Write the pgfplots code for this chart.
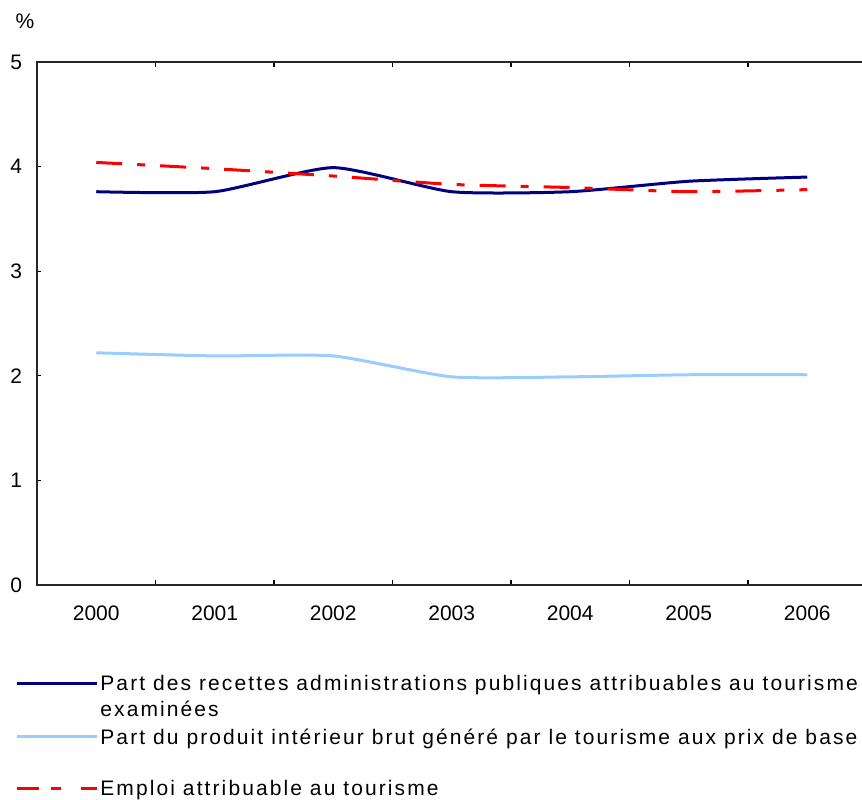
\documentclass[border=0pt]{standalone}
\usepackage{pgfplots}
\pgfplotsset{compat=1.18}
\usepackage{fontspec}
\setmainfont{Liberation Sans}
\newfontfamily\legfont[LetterSpace=10]{Liberation Sans}
\definecolor{navyline}{RGB}{0,0,128}
\definecolor{lblue}{RGB}{153,204,255}
\definecolor{redline}{RGB}{255,0,0}
\begin{document}
\begin{tikzpicture}
\useasboundingbox (0,0) rectangle (431pt,399.5pt);
\begin{axis}[
  at={(18.5pt,107pt)}, anchor=south west, scale only axis,
  width=414.75pt, height=261.5pt,
  xmin=-0.5, xmax=6.5, ymin=0, ymax=5,
  xtick={0,1,2,3,4,5,6},
  xticklabels={2000,2001,2002,2003,2004,2005,2006},
  minor xtick={0.5,1.5,2.5,3.5,4.5,5.5},
  ytick={0,1,2,3,4,5},
  tick align=inside,
  major x tick style={draw=none},
  minor tick length=2.5pt, major tick length=2pt,
  tick style={black, line width=0.6pt},
  axis line style={line width=0.8pt, black!85},
  /pgf/number format/assume math mode=true,
  tick label style={font=\fontsize{10.5}{12}\selectfont},
  xticklabel style={yshift=-7pt},
  yticklabel style={xshift=-4pt},
  clip=false,
]
\addplot[navyline, line width=1.5pt, smooth, tension=0.35] coordinates {
(0,3.76) (1,3.76) (2,3.99) (3,3.76) (4,3.76) (5,3.86) (6,3.90)};
\addplot[lblue, line width=1.5pt, smooth, tension=0.35] coordinates {
(0,2.22) (1,2.19) (2,2.19) (3,1.99) (4,1.99) (5,2.01) (6,2.01)};
\addplot[redline, line width=1.5pt, smooth, tension=0.35, dash pattern=on 13pt off 7.5pt on 4pt off 7.5pt] coordinates {
(0,4.04) (1,3.98) (2,3.91) (3,3.83) (4,3.80) (5,3.76) (6,3.78)};
\end{axis}
\node[anchor=base, font=\fontsize{10.5}{12}\selectfont] at (12.5pt,385pt) {\%};
% legend
\draw[navyline, line width=1.5pt] (8.5pt,58pt) -- (48.5pt,58pt);
\node[anchor=base west, inner sep=0pt, font=\legfont\fontsize{10.5}{12}\selectfont] at (50pt,54.5pt) {Part des recettes administrations publiques attribuables au tourisme};
\node[anchor=base west, inner sep=0pt, font=\legfont\fontsize{10.5}{12}\selectfont] at (50pt,41.5pt) {examinées};
\draw[lblue, line width=1.5pt] (8.5pt,31.5pt) -- (48.5pt,31.5pt);
\node[anchor=base west, inner sep=0pt, font=\legfont\fontsize{10.5}{12}\selectfont] at (50pt,27.5pt) {Part du produit intérieur brut généré par le tourisme aux prix de base};
\draw[redline, line width=1.5pt, dash pattern=on 11pt off 6pt on 5pt off 10pt on 10pt] (8.5pt,5.5pt) -- (48.5pt,5.5pt);
\node[anchor=base west, inner sep=0pt, font=\legfont\fontsize{10.5}{12}\selectfont] at (50pt,2pt) {Emploi attribuable au tourisme};
\end{tikzpicture}
\end{document}
